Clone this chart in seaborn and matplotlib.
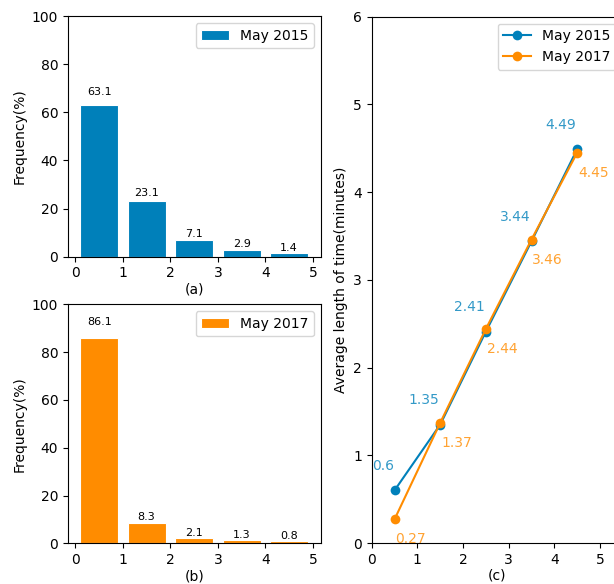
import matplotlib
matplotlib.use("Agg")
import matplotlib.pyplot as plt
import seaborn as sns

# ---- data ----
bins = [0.5, 1.5, 2.5, 3.5, 4.5]
freq_2015 = [63.1, 23.1, 7.1, 2.9, 1.4]
freq_2017 = [86.1, 8.3, 2.1, 1.3, 0.8]
avg_2015 = [0.6, 1.35, 2.41, 3.44, 4.49]
avg_2017 = [0.27, 1.37, 2.44, 3.46, 4.45]
label_2015 = "May 2015"
label_2017 = "May 2017"

blue = "#0080BA"
orange = "#FF8C00"

plt.rcParams['font.family'] = ['DejaVu Sans']
fig = plt.figure(figsize=(6.14, 5.84), dpi=100)
ax_a = fig.add_axes([0.1107, 0.5604, 0.412, 0.412])
ax_b = fig.add_axes([0.1107, 0.0697, 0.412, 0.409])
ax_c = fig.add_axes([0.6054, 0.0702, 0.409, 0.9012])


def bar_panel(ax, vals, color, label, xlabel):
    sns.barplot(x=bins, y=vals, native_scale=True, color=color, saturation=1,
                width=0.8, edgecolor="white", linewidth=0.8, label=label, ax=ax)
    for x, v in zip(bins, vals):
        ax.text(x, v * 1.05, f"{v}", ha="center", va="bottom", fontsize=8)
    ax.set_xlim(-0.156, 5.17)
    ax.set_ylim(0, 100)
    ax.set_xticks(range(0, 6))
    ax.set_xticklabels([str(i) for i in range(0, 6)])
    ax.set_yticks(range(0, 101, 20))
    ax.set_ylabel("Frequency(%)")
    ax.set_xlabel(xlabel, labelpad=1.5)
    ax.legend(loc="upper right")


bar_panel(ax_a, freq_2015, blue, label_2015, "(a)")
bar_panel(ax_b, freq_2017, orange, label_2017, "(b)")

sns.lineplot(x=bins, y=avg_2015, marker="o", color=blue, label=label_2015,
             markersize=7, markeredgecolor=blue, markeredgewidth=0,
             linewidth=1.5, ax=ax_c)
sns.lineplot(x=bins, y=avg_2017, marker="o", color=orange, label=label_2017,
             markersize=7, markeredgecolor=orange, markeredgewidth=0,
             linewidth=1.5, ax=ax_c)
for x, v in zip(bins, avg_2015):
    ax_c.text(x - 0.02, v + 0.2, f"{v}", ha="right", va="bottom",
              fontsize=10, color=blue, alpha=0.8)
for x, v in zip(bins, avg_2017):
    ax_c.text(x + 0.02, v - 0.15, f"{v}", ha="left", va="top",
              fontsize=10, color=orange, alpha=0.8)
ax_c.set_xlim(0, 5.5)
ax_c.set_ylim(0, 6)
ax_c.set_xticks(range(0, 6))
ax_c.set_yticks(range(0, 7))
ax_c.set_ylabel("Average length of time(minutes)")
ax_c.set_xlabel("(c)", labelpad=1.5)
ax_c.legend(loc="upper right")

fig.savefig("out.png", dpi=100)
